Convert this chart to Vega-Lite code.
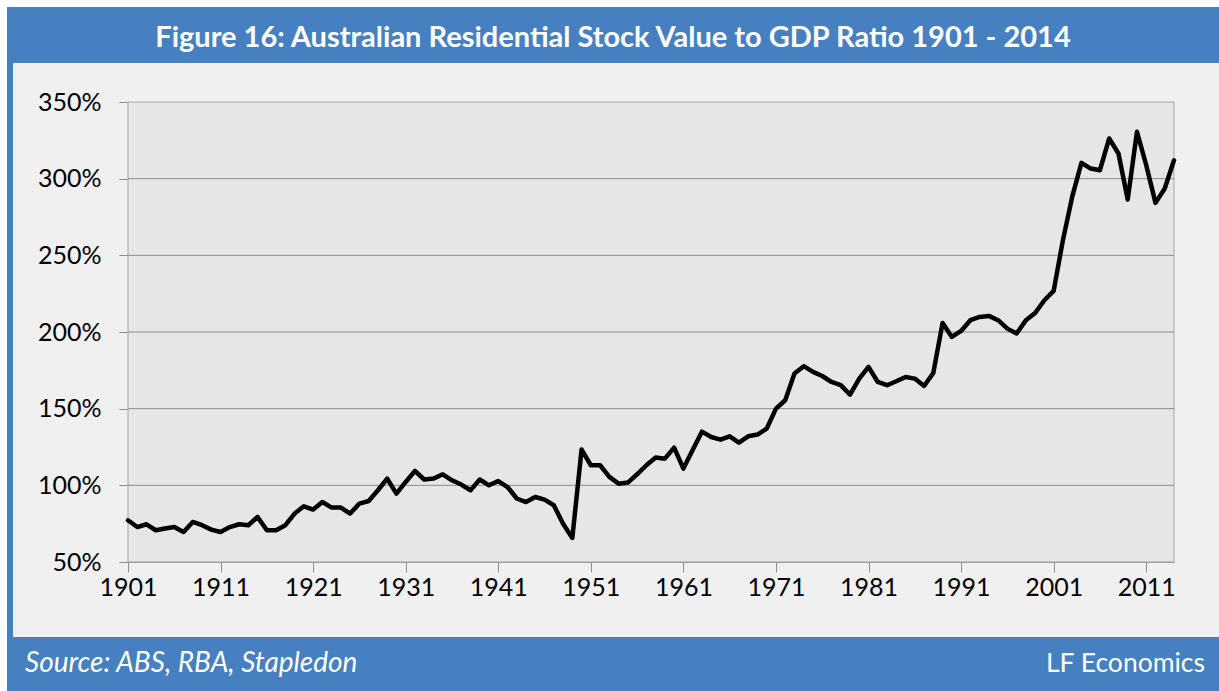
{
  "$schema": "https://vega.github.io/schema/vega-lite/v6.json",
  "background": "white",
  "padding": {"left": 7, "top": 7, "right": 0, "bottom": 0},
  "config": {"view": {"stroke": null}, "font": "Lato"},
  "columns": 2,
  "spacing": 0,
  "bounds": "flush",
  "align": "each",
  "concat": [
    {"width": 6, "height": 56, "view": {"fill": "#4680C1", "stroke": null}, "data": {"values": []}, "mark": "text", "encoding": {}},
    {"width": 1206, "height": 56, "view": {"fill": "#4680C1", "stroke": null},
     "title": {"text": "Figure 16: Australian Residential Stock Value to GDP Ratio 1901 - 2014", "orient": "top", "anchor": "middle", "frame": "group", "offset": -28, "baseline": "middle", "dx": -3, "dy": 32, "font": "Lato", "fontWeight": "bold", "fontSize": 29, "color": "white"},
     "data": {"values": []}, "mark": "text", "encoding": {}},
    {"width": 6, "height": 574, "view": {"fill": "#4680C1", "stroke": null}, "data": {"values": []}, "mark": "text", "encoding": {}},
    {"width": 1206, "height": 574, "view": {"fill": "#F0F0F0", "stroke": null},
     "layer": [
       {"data": {"values": [{}]},
        "mark": {"type": "rect", "fill": "#E6E6E6", "stroke": "#A6A6A6", "strokeWidth": 1},
        "encoding": {
          "x": {"datum": 1901, "type": "quantitative",
                "scale": {"domain": [1901, 2014], "range": [115, 1161], "nice": false, "zero": false},
                "axis": {"values": [1901, 1911, 1921, 1931, 1941, 1951, 1961, 1971, 1981, 1991, 2001, 2011], "format": "d", "offset": -75, "tickSize": 10, "tickColor": "#8C8C8C", "domainColor": "#8C8C8C", "grid": false, "title": null, "labelFont": "Lato", "labelFontSize": 25, "labelColor": "#000000", "labelPadding": 3, "labelFlush": false, "labelOverlap": false}},
          "x2": {"datum": 2014},
          "y": {"datum": 50, "type": "quantitative",
                "scale": {"domain": [50, 350], "range": [499, 39], "nice": false, "zero": false},
                "axis": {"values": [50, 100, 150, 200, 250, 300, 350], "labelExpr": "datum.value + '%'", "offset": -115, "tickSize": 9, "tickColor": "#8C8C8C", "domainColor": "#8C8C8C", "grid": false, "title": null, "labelFont": "Lato", "labelFontSize": 25, "labelColor": "#000000", "labelPadding": 18, "labelOverlap": false}},
          "y2": {"datum": 350}
        }},
       {"data": {"values": [{"v": 100}, {"v": 150}, {"v": 200}, {"v": 250}, {"v": 300}]},
        "mark": {"type": "rule", "color": "#8C8C8C", "strokeWidth": 1},
        "encoding": {"x": {"datum": 1901, "type": "quantitative"}, "x2": {"datum": 2014}, "y": {"field": "v", "type": "quantitative"}}},
       {"data": {"values": [
          {"year": 1901, "ratio": 77.2}, {"year": 1902, "ratio": 72.8}, {"year": 1903, "ratio": 74.6}, {"year": 1904, "ratio": 70.7}, {"year": 1905, "ratio": 71.8},
          {"year": 1906, "ratio": 72.8}, {"year": 1907, "ratio": 69.6}, {"year": 1908, "ratio": 76.1}, {"year": 1909, "ratio": 74.0}, {"year": 1910, "ratio": 71.1},
          {"year": 1911, "ratio": 69.6}, {"year": 1912, "ratio": 72.8}, {"year": 1913, "ratio": 74.6}, {"year": 1914, "ratio": 74.0}, {"year": 1915, "ratio": 79.4},
          {"year": 1916, "ratio": 70.7}, {"year": 1917, "ratio": 70.7}, {"year": 1918, "ratio": 74.0}, {"year": 1919, "ratio": 81.6}, {"year": 1920, "ratio": 86.3},
          {"year": 1921, "ratio": 84.2}, {"year": 1922, "ratio": 89.1}, {"year": 1923, "ratio": 85.5}, {"year": 1924, "ratio": 85.5}, {"year": 1925, "ratio": 81.6},
          {"year": 1926, "ratio": 88.1}, {"year": 1927, "ratio": 89.8}, {"year": 1928, "ratio": 96.8}, {"year": 1929, "ratio": 104.4}, {"year": 1930, "ratio": 94.6},
          {"year": 1931, "ratio": 102.2}, {"year": 1932, "ratio": 109.4}, {"year": 1933, "ratio": 103.8}, {"year": 1934, "ratio": 104.4}, {"year": 1935, "ratio": 107.2},
          {"year": 1936, "ratio": 103.3}, {"year": 1937, "ratio": 100.5}, {"year": 1938, "ratio": 96.8}, {"year": 1939, "ratio": 103.8}, {"year": 1940, "ratio": 100.0},
          {"year": 1941, "ratio": 102.8}, {"year": 1942, "ratio": 98.9}, {"year": 1943, "ratio": 91.4}, {"year": 1944, "ratio": 89.1}, {"year": 1945, "ratio": 92.4},
          {"year": 1946, "ratio": 90.7}, {"year": 1947, "ratio": 87.0}, {"year": 1948, "ratio": 75.0}, {"year": 1949, "ratio": 65.7}, {"year": 1950, "ratio": 123.3},
          {"year": 1951, "ratio": 113.1}, {"year": 1952, "ratio": 113.1}, {"year": 1953, "ratio": 105.5}, {"year": 1954, "ratio": 101.1}, {"year": 1955, "ratio": 101.8},
          {"year": 1956, "ratio": 107.2}, {"year": 1957, "ratio": 113.1}, {"year": 1958, "ratio": 118.1}, {"year": 1959, "ratio": 117.4}, {"year": 1960, "ratio": 124.6},
          {"year": 1961, "ratio": 110.9}, {"year": 1962, "ratio": 123.0}, {"year": 1963, "ratio": 135.0}, {"year": 1964, "ratio": 131.5}, {"year": 1965, "ratio": 129.8},
          {"year": 1966, "ratio": 132.0}, {"year": 1967, "ratio": 127.9}, {"year": 1968, "ratio": 132.0}, {"year": 1969, "ratio": 133.1}, {"year": 1970, "ratio": 137.0},
          {"year": 1971, "ratio": 150.0}, {"year": 1972, "ratio": 155.5}, {"year": 1973, "ratio": 172.9}, {"year": 1974, "ratio": 177.7}, {"year": 1975, "ratio": 174.0},
          {"year": 1976, "ratio": 171.3}, {"year": 1977, "ratio": 167.4}, {"year": 1978, "ratio": 165.3}, {"year": 1979, "ratio": 159.2}, {"year": 1980, "ratio": 169.6},
          {"year": 1981, "ratio": 177.2}, {"year": 1982, "ratio": 167.4}, {"year": 1983, "ratio": 165.3}, {"year": 1984, "ratio": 167.9}, {"year": 1985, "ratio": 170.7},
          {"year": 1986, "ratio": 169.6}, {"year": 1987, "ratio": 164.8}, {"year": 1988, "ratio": 173.3}, {"year": 1989, "ratio": 205.9}, {"year": 1990, "ratio": 196.8},
          {"year": 1991, "ratio": 200.7}, {"year": 1992, "ratio": 207.7}, {"year": 1993, "ratio": 209.8}, {"year": 1994, "ratio": 210.5}, {"year": 1995, "ratio": 207.7},
          {"year": 1996, "ratio": 202.2}, {"year": 1997, "ratio": 199.0}, {"year": 1998, "ratio": 207.7}, {"year": 1999, "ratio": 212.4}, {"year": 2000, "ratio": 220.7},
          {"year": 2001, "ratio": 226.8}, {"year": 2002, "ratio": 259.9}, {"year": 2003, "ratio": 288.1}, {"year": 2004, "ratio": 310.3}, {"year": 2005, "ratio": 306.6},
          {"year": 2006, "ratio": 305.5}, {"year": 2007, "ratio": 326.2}, {"year": 2008, "ratio": 316.4}, {"year": 2009, "ratio": 286.4}, {"year": 2010, "ratio": 330.6},
          {"year": 2011, "ratio": 308.8}, {"year": 2012, "ratio": 284.2}, {"year": 2013, "ratio": 293.6}, {"year": 2014, "ratio": 312.0}
        ]},
        "mark": {"type": "line", "color": "#000000", "strokeWidth": 4.5, "strokeJoin": "round", "strokeCap": "round"},
        "encoding": {"x": {"field": "year", "type": "quantitative"}, "y": {"field": "ratio", "type": "quantitative"}}}
     ]},
    {"width": 6, "height": 54, "view": {"fill": "#4680C1", "stroke": null}, "data": {"values": []}, "mark": "text", "encoding": {}},
    {"width": 1206, "height": 54, "view": {"fill": "#4680C1", "stroke": null},
     "title": {"text": "Source: ABS, RBA, Stapledon", "orient": "top", "anchor": "start", "frame": "group", "offset": -27, "baseline": "middle", "dx": 12, "dy": 28, "font": "Lato", "fontStyle": "italic", "fontWeight": "normal", "fontSize": 28, "color": "white"},
     "data": {"values": [{"t": "LF Economics"}]},
     "mark": {"type": "text", "align": "right", "baseline": "middle", "dx": -14, "dy": -27, "font": "Lato", "fontSize": 26.5, "color": "white"},
     "encoding": {"text": {"field": "t", "type": "nominal"}, "x": {"value": "width"}, "y": {"value": "height"}}}
  ]
}
